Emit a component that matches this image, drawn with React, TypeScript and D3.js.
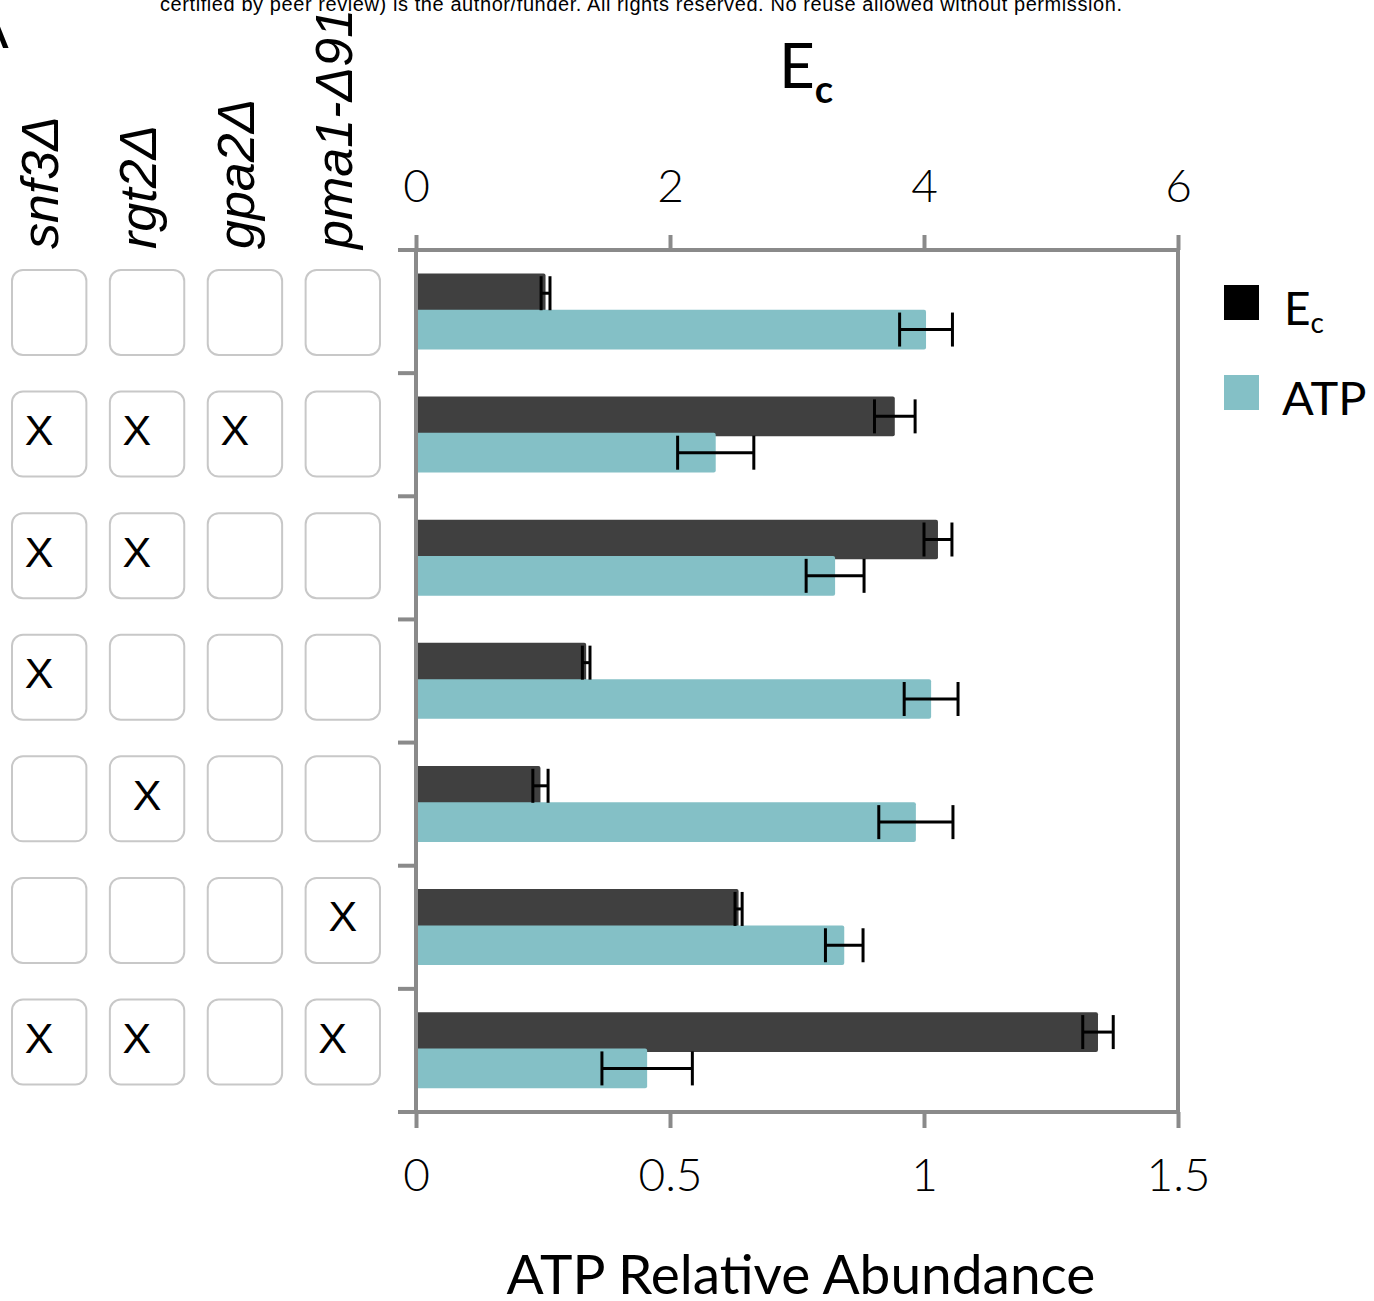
import { useEffect, useRef } from 'react'
import * as d3 from 'd3'

// strains, top to bottom
const strains = ['WT', 'snf3 rgt2 gpa2', 'snf3 rgt2', 'snf3', 'rgt2', 'pma1', 'snf3 rgt2 pma1']
const genes = ['snf3Δ', 'rgt2Δ', 'gpa2Δ', 'pma1-Δ91']
// 0 = wild type, 1 = deleted (X), 2 = deleted, X drawn centred
const genotype = [
  [0, 0, 0, 0],
  [1, 1, 1, 0],
  [1, 1, 0, 0],
  [1, 0, 0, 0],
  [0, 2, 0, 0],
  [0, 0, 0, 2],
  [1, 1, 0, 1],
]
const ecValues = [1.02, 3.77, 4.11, 1.34, 0.98, 2.54, 5.37]
const ecErrors = [0.035, 0.16, 0.11, 0.03, 0.06, 0.028, 0.12]
const atpValues = [1.004, 0.59, 0.825, 1.014, 0.984, 0.843, 0.455]
const atpErrors = [0.052, 0.075, 0.057, 0.053, 0.073, 0.037, 0.089]
const ecTicks = [0, 2, 4, 6]
const atpTicks = [0, 0.5, 1, 1.5]

const W = 1374
const H = 1301
const EC_COLOR = '#404040'
const ATP_COLOR = '#84c0c6'
const AXIS = '#8a8a8a'
const SANS = 'Lato, "Open Sans", sans-serif'
const ARIAL = '"Liberation Sans", Arial, sans-serif'

export default function App() {
  const svgRef = useRef<SVGSVGElement>(null)

  useEffect(() => {
    const svg = d3.select(svgRef.current)
    svg.selectAll('*').remove()

    const left = 416, right = 1178, top = 250, bottom = 1112

    const xEc = d3.scaleLinear().domain([0, 6]).range([left, right])
    const xAtp = d3.scaleLinear().domain([0, 1.5]).range([left, right])
    const y = d3.scaleBand<number>().domain(d3.range(strains.length)).range([top, bottom])
    const bw = y.bandwidth()

    // header fragment
    svg.append('text')
      .attr('x', 160).attr('y', 11)
      .attr('textLength', 962)
      .style('font-family', ARIAL).style('font-size', '20px')
      .text('certified by peer review) is the author/funder. All rights reserved. No reuse allowed without permission.')
    svg.append('text')
      .attr('x', -30).attr('y', 48)
      .style('font-family', ARIAL).style('font-size', '58px')
      .text('A')

    // genotype grid
    const gx = d3.scaleBand<number>().domain(d3.range(genes.length)).range([12, 380]).paddingInner(0.24)
    const gy = d3.scaleBand<number>().domain(d3.range(strains.length)).range([251.7, 1102.8])
    const boxH = 85

    svg.append('g').selectAll('text')
      .data(genes)
      .join('text')
      .attr('transform', (_, i) => `translate(${(gx(i) as number) + gx.bandwidth() / 2 + 9},249) rotate(-90)`)
      .style('font-family', ARIAL).style('font-style', 'italic').style('font-size', '52px')
      .text(d => d)

    const cells: { r: number; c: number; v: number }[] = []
    genotype.forEach((row, r) => row.forEach((v, c) => cells.push({ r, c, v })))

    const grid = svg.append('g')
    grid.selectAll('rect')
      .data(cells)
      .join('rect')
      .attr('x', d => gx(d.c) as number)
      .attr('y', d => (gy(d.r) as number) + gy.bandwidth() / 2 - boxH / 2)
      .attr('width', gx.bandwidth())
      .attr('height', boxH)
      .attr('rx', 11)
      .attr('fill', '#fff')
      .attr('stroke', '#c8c8c8')
      .attr('stroke-width', 2)

    grid.selectAll('text')
      .data(cells.filter(d => d.v > 0))
      .join('text')
      .attr('x', d => (gx(d.c) as number) + (d.v === 2 ? gx.bandwidth() / 2 : 27))
      .attr('y', d => (gy(d.r) as number) + gy.bandwidth() / 2 + 11)
      .attr('text-anchor', 'middle')
      .style('font-family', ARIAL).style('font-size', '43px')
      .text('X')

    // bars
    const ecY = (i: number) => (y(i) as number) + bw * 0.19
    const atpY = (i: number) => (y(i) as number) + bw * 0.485
    const barH = bw * 0.322

    const bars = svg.append('g')
    bars.selectAll('rect.ec')
      .data(ecValues)
      .join('rect')
      .attr('class', 'ec')
      .attr('x', left)
      .attr('y', (_, i) => ecY(i))
      .attr('width', d => xEc(d) - left)
      .attr('height', barH)
      .attr('rx', 2)
      .attr('fill', EC_COLOR)
    bars.selectAll('rect.atp')
      .data(atpValues)
      .join('rect')
      .attr('class', 'atp')
      .attr('x', left)
      .attr('y', (_, i) => atpY(i))
      .attr('width', d => xAtp(d) - left)
      .attr('height', barH)
      .attr('rx', 2)
      .attr('fill', ATP_COLOR)

    // error bars
    const errBar = (vals: number[], errs: number[], x: d3.ScaleLinear<number, number>, yf: (i: number) => number) => {
      const g = svg.append('g').attr('stroke', '#000').attr('stroke-width', 3).attr('fill', 'none')
      vals.forEach((v, i) => {
        const cy = yf(i) + barH / 2
        const x0 = x(v - errs[i]), x1 = x(v + errs[i])
        g.append('line').attr('x1', x0).attr('x2', x1).attr('y1', cy).attr('y2', cy)
        g.append('line').attr('x1', x0).attr('x2', x0).attr('y1', cy - 17).attr('y2', cy + 17)
        g.append('line').attr('x1', x1).attr('x2', x1).attr('y1', cy - 17).attr('y2', cy + 17)
      })
    }
    errBar(ecValues, ecErrors, xEc, ecY)
    errBar(atpValues, atpErrors, xAtp, atpY)

    // frame
    const frame = svg.append('g').attr('stroke', AXIS).attr('stroke-width', 4).attr('fill', 'none')
    frame.append('line').attr('x1', 398).attr('x2', right).attr('y1', top).attr('y2', top)
    frame.append('line').attr('x1', 398).attr('x2', right).attr('y1', bottom).attr('y2', bottom)
    frame.append('line').attr('x1', left).attr('x2', left).attr('y1', top).attr('y2', bottom)
    frame.append('line').attr('x1', right).attr('x2', right).attr('y1', top).attr('y2', bottom)
    // left ticks at group boundaries
    frame.selectAll('line.yt')
      .data(d3.range(strains.length + 1))
      .join('line')
      .attr('class', 'yt')
      .attr('x1', 398).attr('x2', left)
      .attr('y1', i => top + i * y.step())
      .attr('y2', i => top + i * y.step())

    // top axis (Ec)
    const topAxis = svg.append('g')
      .attr('transform', `translate(0,${top})`)
      .call(d3.axisTop(xEc).tickValues(ecTicks).tickSize(15).tickSizeOuter(0).tickPadding(33).tickFormat(d3.format('d')))
    topAxis.select('.domain').remove()
    topAxis.selectAll('line').attr('stroke', AXIS).attr('stroke-width', 4)
    topAxis.selectAll('text').style('font-family', SANS).style('font-weight', 300).style('font-size', '46px').attr('fill', '#000')

    // bottom axis (ATP)
    const botAxis = svg.append('g')
      .attr('transform', `translate(0,${bottom})`)
      .call(d3.axisBottom(xAtp).tickValues(atpTicks).tickSize(16).tickSizeOuter(0).tickPadding(30).tickFormat(d => String(d)))
    botAxis.select('.domain').remove()
    botAxis.selectAll('line').attr('stroke', AXIS).attr('stroke-width', 4)
    botAxis.selectAll('text').style('font-family', SANS).style('font-weight', 300).style('font-size', '46px').attr('fill', '#000')

    // titles
    const t = svg.append('text')
      .attr('x', 779).attr('y', 88)
      .style('font-family', SANS).style('font-size', '62px')
    t.append('tspan').text('E')
    t.append('tspan').attr('dy', 15).style('font-size', '38px').style('font-weight', 700).text('c')

    svg.append('text')
      .attr('x', 801).attr('y', 1294)
      .attr('text-anchor', 'middle')
      .style('font-family', SANS).style('font-size', '55px')
      .text('ATP Relative Abundance')

    // legend
    const legend = svg.append('g').attr('transform', 'translate(1224,285)')
    legend.append('rect').attr('width', 35).attr('height', 35).attr('fill', '#000')
    legend.append('rect').attr('y', 90).attr('width', 35).attr('height', 35).attr('fill', ATP_COLOR)
    const le = legend.append('text').attr('x', 60).attr('y', 40)
      .style('font-family', SANS).style('font-size', '46px')
    le.append('tspan').text('E')
    le.append('tspan').attr('dy', 8).style('font-size', '28px').text('c')
    legend.append('text').attr('x', 58).attr('y', 130)
      .style('font-family', SANS).style('font-size', '47px')
      .text('ATP')
  }, [])

  return (
    <svg
      ref={svgRef}
      width={W}
      height={H}
      style={{ position: 'absolute', left: 0, top: 0, background: '#fff' }}
    />
  )
}
